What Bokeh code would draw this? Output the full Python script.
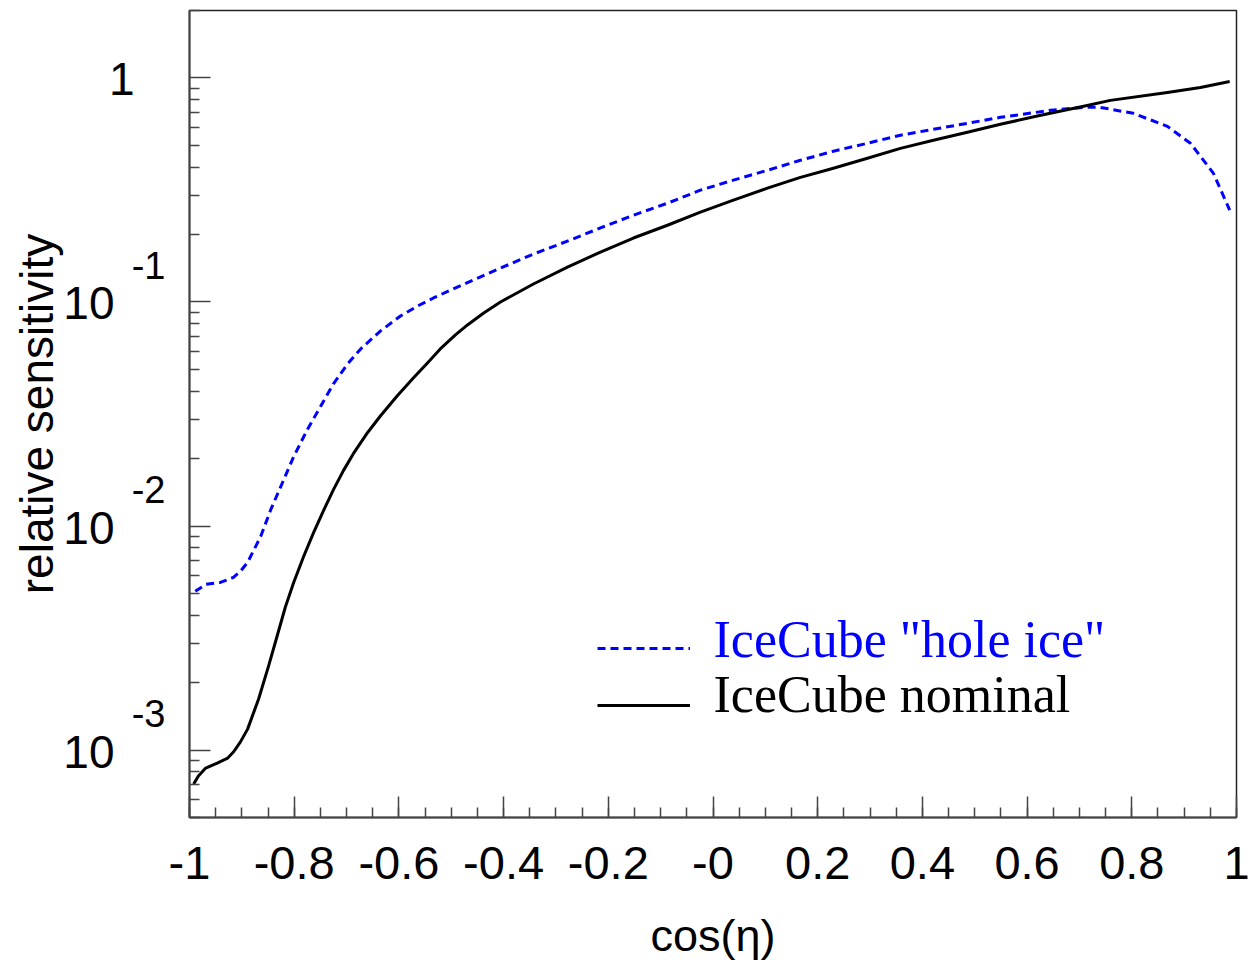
import math
from bokeh.plotting import figure
from bokeh.models import (Range1d, FixedTicker, CustomJSTickFormatter, Label,
                          Legend, LegendItem, LogAxis)
from bokeh.embed import file_html
from bokeh.resources import INLINE

# ---------------- data ----------------
nominal_cos = [-0.992, -0.983, -0.969, -0.947, -0.927, -0.916, -0.903, -0.889,
               -0.868, -0.849, -0.830, -0.817, -0.801, -0.782, -0.763, -0.744,
               -0.725, -0.706, -0.687, -0.660, -0.635, -0.603, -0.572, -0.545,
               -0.521, -0.492, -0.469, -0.438, -0.406, -0.343, -0.278, -0.215,
               -0.152, -0.087, -0.024, 0.039, 0.104, 0.167, 0.230, 0.295,
               0.358, 0.421, 0.486, 0.549, 0.626, 0.708, 0.759, 0.868, 0.931,
               0.987]
nominal_sens = [7.06e-4, 7.66e-4, 8.31e-4, 8.75e-4, 9.21e-4, 9.80e-4, 1.085e-3,
                1.24e-3, 1.69e-3, 2.37e-3, 3.39e-3, 4.34e-3, 5.60e-3, 7.31e-3,
                9.35e-3, 0.01172, 0.01454, 0.01767, 0.02103, 0.02609, 0.03106,
                0.03814, 0.04586, 0.0535, 0.0617, 0.0713, 0.0790, 0.0893,
                0.100, 0.1203, 0.143, 0.167, 0.193, 0.220, 0.252, 0.285, 0.322,
                0.360, 0.395, 0.438, 0.485, 0.527, 0.572, 0.621, 0.681, 0.747,
                0.794, 0.862, 0.907, 0.965]

holeice_cos = [-0.989, -0.969, -0.941, -0.916, -0.903, -0.889, -0.864, -0.845,
               -0.820, -0.801, -0.775, -0.750, -0.725, -0.698, -0.673, -0.635,
               -0.597, -0.564, -0.534, -0.501, -0.469, -0.406, -0.343, -0.278,
               -0.215, -0.152, -0.087, -0.024, 0.039, 0.104, 0.167, 0.230,
               0.295, 0.358, 0.421, 0.486, 0.549, 0.645, 0.708, 0.740, 0.803,
               0.868, 0.912, 0.956, 0.987]
holeice_sens = [5.11e-3, 5.49e-3, 5.60e-3, 5.90e-3, 6.27e-3, 6.88e-3, 8.98e-3,
                0.0118, 0.0161, 0.0204, 0.0269, 0.0341, 0.0431, 0.0529, 0.0617,
                0.0743, 0.0866, 0.0960, 0.1042, 0.1131, 0.1221, 0.1417, 0.1636,
                0.1869, 0.214, 0.244, 0.276, 0.3155, 0.350, 0.387, 0.429, 0.471,
                0.511, 0.555, 0.590, 0.627, 0.667, 0.717, 0.739, 0.739, 0.695,
                0.608, 0.511, 0.375, 0.257]

x_major_ticks = [-1.0, -0.8, -0.6, -0.4, -0.2, 0.0, 0.2, 0.4, 0.6, 0.8, 1.0]
x_tick_labels = ["-1", "-0.8", "-0.6", "-0.4", "-0.2", "-0", "0.2", "0.4",
                 "0.6", "0.8", "1"]
y_decade_ticks = [1e-3, 1e-2, 1e-1]
y_decade_base = ["10", "10", "10"]
y_decade_exponent = ["-3", "-2", "-1"]
y_unit_tick = [1.0]
y_unit_label = ["1"]

series_labels = ['IceCube "hole ice"', "IceCube nominal"]
x_title = "cos(\u03b7)"
y_title = "relative sensitivity"

# ---------------- layout ----------------
X_MIN, X_MAX = -1.0, 1.0
Y_MIN, Y_MAX = 5.0e-4, 2.0
W, H = 1252, 963
BL, BR, BT, BB = 189, 16, 10, 145
FW = W - BL - BR            # 1047
FH = H - BT - BB            # 808
DEC = FH / math.log10(Y_MAX / Y_MIN)   # pixels per decade


def xd(px):
    """canvas pixel x -> data x (text placement only)"""
    return X_MIN + (px - BL) * (X_MAX - X_MIN) / FW


def yd(py):
    """canvas pixel y -> data y (text placement only)"""
    return 10 ** (math.log10(Y_MAX) - (py - BT) / DEC)


p = figure(width=W, height=H, output_backend="svg", toolbar_location=None,
           x_range=Range1d(X_MIN, X_MAX), y_range=Range1d(Y_MIN, Y_MAX),
           y_axis_type="log", min_border_left=BL, min_border_right=BR,
           min_border_top=BT, min_border_bottom=BB)
p.background_fill_color = "white"
p.border_fill_color = "white"
p.xgrid.visible = False
p.ygrid.visible = False
p.outline_line_color = "#222222"
p.outline_line_width = 1.5

AX_COL = "#444444"
for ax in (p.xaxis[0], p.yaxis[0]):
    ax.axis_line_color = AX_COL
    ax.axis_line_width = 2
    ax.major_tick_line_color = AX_COL
    ax.minor_tick_line_color = AX_COL
    ax.major_tick_line_width = 1.5
    ax.minor_tick_line_width = 1.5
    ax.major_tick_in = 21
    ax.major_tick_out = 0
    ax.minor_tick_in = 10
    ax.minor_tick_out = 0

# x axis
x_minor = [round(-1 + 0.05 * i, 2) for i in range(41)]
p.xaxis.ticker = FixedTicker(ticks=x_major_ticks, minor_ticks=x_minor)
p.xaxis.formatter = CustomJSTickFormatter(
    args=dict(majors=x_major_ticks, names=x_tick_labels),
    code="""
let best = 0, bd = Infinity;
for (let i = 0; i < majors.length; i++) {
  const d = Math.abs(majors[i] - tick);
  if (d < bd) { bd = d; best = i; }
}
return names[best];
""")
p.xaxis.major_label_text_font = "Liberation Sans"
p.xaxis.major_label_text_font_size = "47px"
p.xaxis.major_label_text_color = "black"
p.xaxis.major_label_standoff = 29
p.xaxis.axis_label = x_title
p.xaxis.axis_label_text_font = "Liberation Sans"
p.xaxis.axis_label_text_font_size = "45px"
p.xaxis.axis_label_text_font_style = "normal"
p.xaxis.axis_label_text_color = "black"
p.xaxis.axis_label_standoff = 28

# main y axis: ticks only
y_all_major = y_decade_ticks + y_unit_tick
y_minor = [k * 10 ** d for d in (-4, -3, -2, -1, 0) for k in range(2, 10)
           if Y_MIN <= k * 10 ** d <= Y_MAX]
p.yaxis.ticker = FixedTicker(ticks=y_all_major, minor_ticks=y_minor)
p.yaxis.formatter = CustomJSTickFormatter(code="return '';")
p.yaxis.major_label_standoff = 0

LABEL_JS = """
let best = 0, bd = Infinity;
for (let i = 0; i < majors.length; i++) {
  const d = Math.abs(Math.log10(majors[i]) - Math.log10(tick));
  if (d < bd) { bd = d; best = i; }
}
return names[best];
"""


def label_axis(ticks, names, size, standoff):
    ax = LogAxis(ticker=FixedTicker(ticks=ticks, minor_ticks=[]),
                 formatter=CustomJSTickFormatter(
                     args=dict(majors=ticks, names=names), code=LABEL_JS))
    ax.axis_line_color = None
    ax.major_tick_line_color = None
    ax.minor_tick_line_color = None
    ax.major_tick_in = 0
    ax.major_tick_out = 0
    ax.minor_tick_in = 0
    ax.minor_tick_out = 0
    ax.major_label_text_font = "Liberation Sans"
    ax.major_label_text_font_size = size
    ax.major_label_text_color = "black"
    ax.major_label_standoff = standoff
    return ax


# exponents sit ~37 px above their decade tick
exp_shift = 10 ** (37.0 / DEC)
base_shift = 10 ** (-1.5 / DEC)
ax_exp = label_axis([t * exp_shift for t in y_decade_ticks], y_decade_exponent,
                    "38px", 24)
ax_one = label_axis([t * base_shift for t in y_unit_tick], y_unit_label,
                    "46px", -6)
ax_ten = label_axis([t * base_shift for t in y_decade_ticks], y_decade_base,
                    "46px", -9)
ax_ten.axis_label = y_title
ax_ten.axis_label_text_font = "Liberation Sans"
ax_ten.axis_label_text_font_size = "46px"
ax_ten.axis_label_text_font_style = "normal"
ax_ten.axis_label_text_color = "black"
ax_ten.axis_label_standoff = -3
p.add_layout(ax_exp, "left")
p.add_layout(ax_one, "left")
p.add_layout(ax_ten, "left")

# ---------------- curves ----------------
r_hole = p.line(holeice_cos, holeice_sens, line_color="#0000ff", line_width=3,
                line_dash="8 5", line_join="round")
r_nom = p.line(nominal_cos, nominal_sens, line_color="black", line_width=3,
               line_join="round")

# legend samples (glyphs only) + texts
leg = Legend(items=[LegendItem(label=" ", renderers=[r_hole]),
                    LegendItem(label=" ", renderers=[r_nom])],
             location=(597 - BL, (BT + FH) - 716),
             padding=0, margin=0, spacing=37, glyph_height=20, glyph_width=93,
             label_standoff=0, label_width=0, label_height=20,
             label_text_font_size="1px", border_line_color=None,
             background_fill_alpha=0)
p.add_layout(leg)

for txt, col, mid in zip(series_labels, ["#0000ff", "black"], [640, 695]):
    p.add_layout(Label(x=xd(713), y=yd(mid), text=txt, text_color=col,
                       text_font="Liberation Serif", text_font_size="52px",
                       text_align="left", text_baseline="middle"))

open("out.html", "w").write(file_html(p, INLINE))
